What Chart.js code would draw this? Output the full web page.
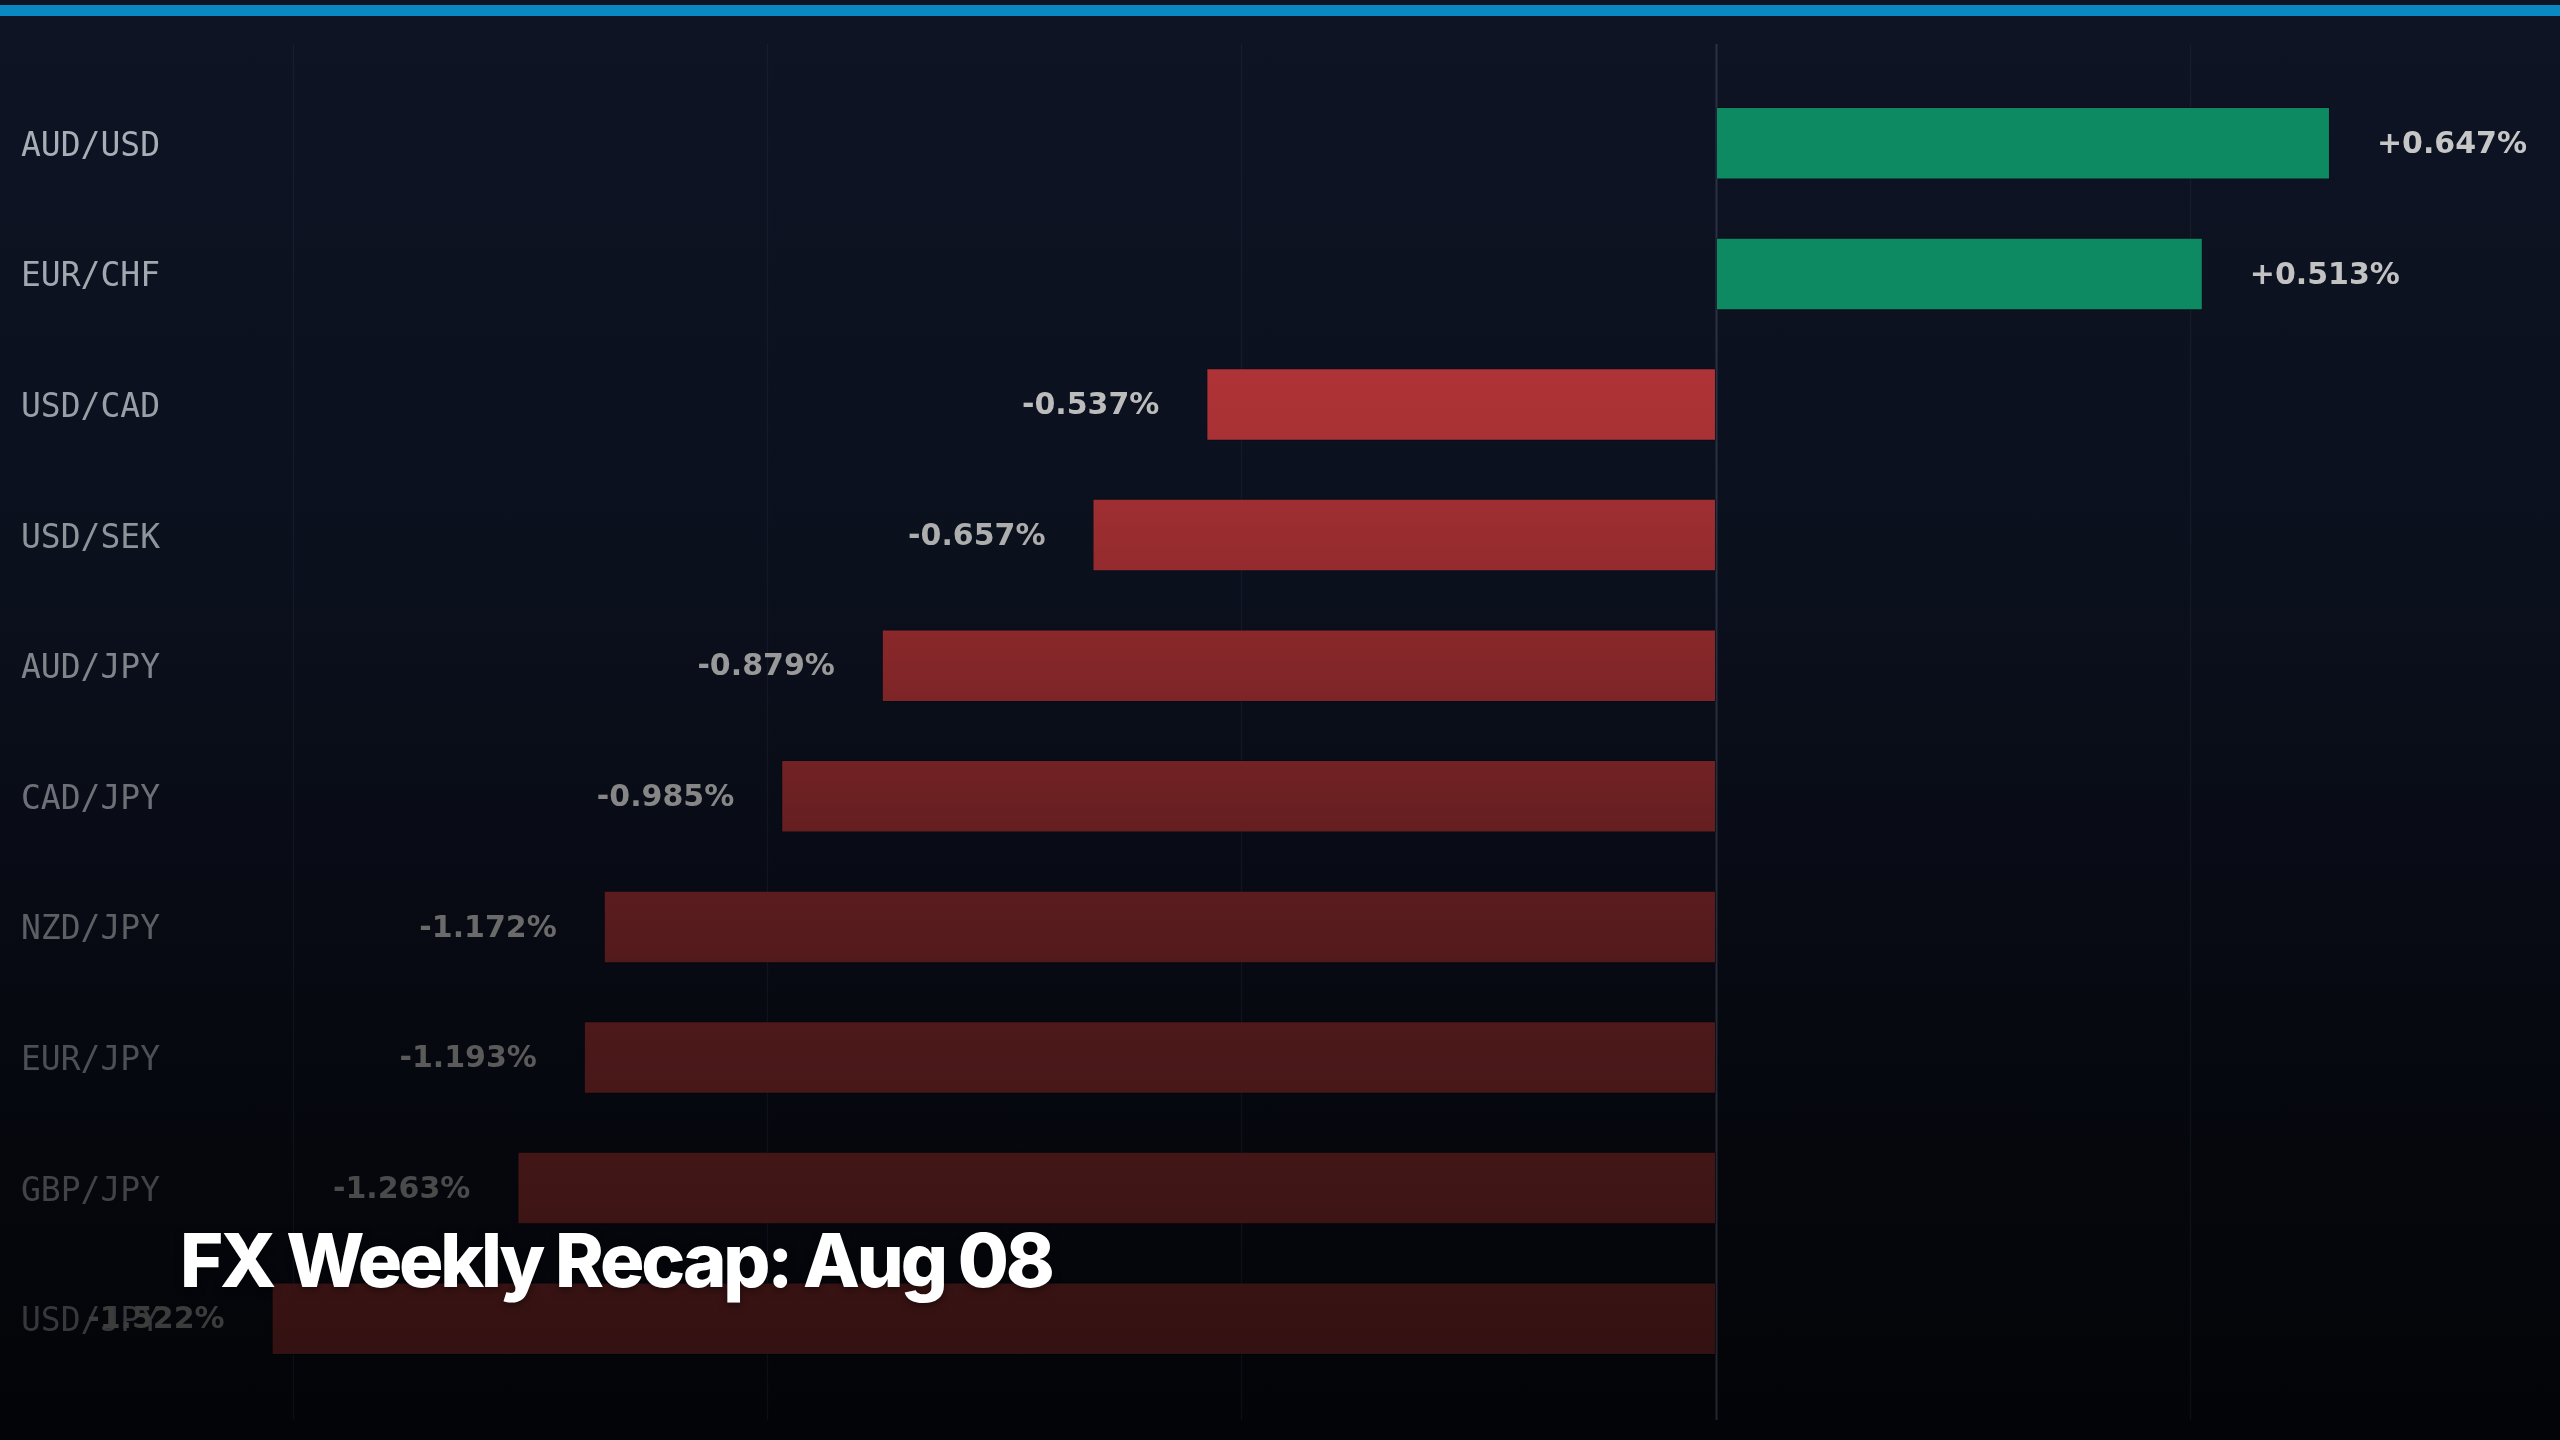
<!DOCTYPE html>
<html>
<head>
<meta charset="utf-8">
<script src="https://cdn.jsdelivr.net/npm/chart.js@4.4.1/dist/chart.umd.min.js"></script>
<style>
  html, body { margin: 0; padding: 0; }
  body {
    width: 2560px; height: 1440px; overflow: hidden; position: relative;
    background: linear-gradient(180deg, #0e1424 0%, #0b101d 40%, #06080f 75%, #030407 100%);
  }
  #topbar { position: absolute; left: 0; top: 5px; width: 2560px; height: 11px; background: #0a88c2; }
  #wrap { position: absolute; left: 0; top: 0; width: 2560px; height: 1440px; }
  #title {
    position: absolute; left: 180px; top: 1215px;
    font-family: Inter, "Noto Sans", sans-serif; font-weight: 800; font-size: 74px;
    letter-spacing: -3.2px; color: #ffffff; white-space: nowrap;
    text-shadow: 0 2px 8px rgba(0,0,0,0.5);
  }
</style>
</head>
<body>
<div id="topbar"></div>
<div id="wrap"><canvas id="fxChart" width="2560" height="1440"></canvas></div>
<div id="title">FX Weekly Recap: Aug 08</div>
<script>
var pairs = ["AUD/USD", "EUR/CHF", "USD/CAD", "USD/SEK", "AUD/JPY", "CAD/JPY", "NZD/JPY", "EUR/JPY", "GBP/JPY", "USD/JPY"];
var weeklyChange = [0.647, 0.513, -0.537, -0.657, -0.879, -0.985, -1.172, -1.193, -1.263, -1.522];
var gridTicks = [-1.5, -1.0, -0.5, 0, 0.5];

// label colours fade out going down the list
var pairColors = ["#a9adb5", "#a3a7af", "#9a9ea6", "#8f939a", "#80848b", "#6d7076", "#5c5f64", "#4d4f54", "#414347", "#36383c"];
var valueColors = ["#c6c6c6", "#c2c2c2", "#bcbcbc", "#adadad", "#999999", "#868686", "#6a6a6a", "#5a5a5a", "#4a4a4a", "#3c3c3c"];

function barFill(c) {
    var ca = c.chart.chartArea;
    if (!ca) return "#0e8a62";
    if (c.raw >= 0) return "#0e8a62";
    var g = c.chart.ctx.createLinearGradient(0, ca.top, 0, ca.bottom);
    g.addColorStop(0.20, "#b23438");
    g.addColorStop(0.30, "#a43033");
    g.addColorStop(0.40, "#8f292c");
    g.addColorStop(0.50, "#782326");
    g.addColorStop(0.60, "#5f1d1f");
    g.addColorStop(0.70, "#4f191b");
    g.addColorStop(0.80, "#451718");
    g.addColorStop(0.90, "#3b1414");
    g.addColorStop(1.00, "#311011");
    return g;
}

var gridPlugin = {
    id: "gridLines",
    beforeDatasetsDraw: function(chart) {
        var x = chart.scales.x, ca = chart.chartArea, ctx = chart.ctx;
        ctx.save();
        gridTicks.forEach(function(t) {
            var px = Math.round(x.getPixelForValue(t)) + 0.5;
            ctx.strokeStyle = t === 0 ? "rgba(150,160,180,0.22)" : "rgba(150,160,180,0.07)";
            ctx.lineWidth = t === 0 ? 2 : 1.5;
            ctx.beginPath();
            ctx.moveTo(px, ca.top - 34);
            ctx.lineTo(px, ca.bottom + 36);
            ctx.stroke();
        });
        ctx.restore();
    }
};

var valueLabels = {
    id: "valueLabels",
    afterDatasetsDraw: function(chart) {
        var ctx = chart.ctx;
        var meta = chart.getDatasetMeta(0);
        ctx.save();
        ctx.font = "bold 30px 'DejaVu Sans', sans-serif";
        ctx.textBaseline = "middle";
        meta.data.forEach(function(bar, i) {
            var v = weeklyChange[i];
            var txt = (v >= 0 ? "+" : "") + v.toFixed(3) + "%";
            ctx.fillStyle = valueColors[i];
            if (v >= 0) {
                ctx.textAlign = "left";
                ctx.fillText(txt, bar.x + 47, bar.y + 2);
            } else {
                ctx.textAlign = "right";
                ctx.fillText(txt, bar.x - 47, bar.y + 2);
            }
        });
        ctx.restore();
    }
};

var ctx = document.getElementById("fxChart").getContext("2d");
var fxChart = new Chart(ctx, {
    type: "bar",
    data: {
        labels: pairs,
        datasets: [{
            data: weeklyChange,
            backgroundColor: barFill,
            borderColor: "rgba(0,0,0,0.25)",
            borderWidth: 1,
            borderSkipped: false,
            barPercentage: 0.555,
            categoryPercentage: 1.0
        }]
    },
    options: {
        indexAxis: "y",
        responsive: false,
        animation: false,
        layout: { padding: { left: 21, right: 0, top: 78, bottom: 56 } },
        plugins: { legend: { display: false }, tooltip: { enabled: false } },
        scales: {
            x: {
                display: false,
                min: -1.6175,
                max: 0.8894
            },
            y: {
                grid: { display: false },
                border: { display: false },
                afterFit: function(s) { s.width = 160; },
                ticks: {
                    crossAlign: "far",
                    padding: 0,
                    labelOffset: 4,
                    color: pairColors,
                    font: { family: "'DejaVu Sans Mono', monospace", size: 33 }
                }
            }
        }
    },
    plugins: [gridPlugin, valueLabels]
});
</script>
</body>
</html>
